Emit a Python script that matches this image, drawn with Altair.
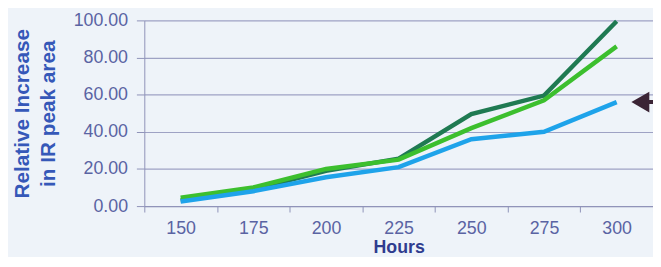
import altair as alt
import pandas as pd

hours = [150, 175, 200, 225, 250, 275, 300]
dark_green = [3.0, 9.0, 19.0, 25.5, 49.5, 59.5, 99.5]
green = [4.5, 10.0, 20.0, 25.0, 42.0, 57.0, 86.0]
blue = [2.5, 8.0, 15.5, 21.0, 36.0, 40.0, 56.0]
y_ticks = [0, 20, 40, 60, 80, 100]

series_names = ["Dark green", "Green", "Blue"]
series_colors = ["#1f7a52", "#3cbf2e", "#1ea3ea"]

rows = []
for name, vals in zip(series_names, [dark_green, green, blue]):
    for h, v in zip(hours, vals):
        rows.append({"hours": h, "value": v, "series": name})
df = pd.DataFrame(rows)

arrow_df = pd.DataFrame({"hours": [hours[-1]], "value": [blue[-1]]})

x_enc = alt.X(
    "hours:O",
    scale=alt.Scale(type="band", paddingInner=0, paddingOuter=0),
    bandPosition=0.5,
    axis=alt.Axis(
        title="Hours", tickBand="extent", labelAngle=0, grid=False,
        labelFont="Liberation Sans", labelFontSize=18, labelColor="#5a63a3",
        titleFont="Liberation Sans", titleFontSize=18, titleColor="#2f3c8f",
        titleFontWeight="bold", titlePadding=1,
        domainColor="#8e92b8", tickColor="#8e92b8", tickSize=6, labelPadding=8,
    ),
)
y_enc = alt.Y(
    "value:Q",
    scale=alt.Scale(domain=[0, 100]),
    axis=alt.Axis(
        title=["Relative  Increase", "in IR peak area"],
        values=y_ticks, format=".2f", labelOverlap=False, tickCount=6,
        labelFont="Liberation Sans", labelFontSize=18, labelColor="#5a63a3",
        titleFont="Liberation Sans", titleFontSize=21, titleColor="#3558b8",
        titleFontWeight="bold", titlePadding=15, titleLineHeight=26,
        gridColor="#9ea2c4", gridWidth=1.2, domainColor="#8e92b8",
        tickColor="#8e92b8", tickSize=8, labelPadding=9,
    ),
)

lines = alt.Chart(df).mark_line(strokeWidth=4.5, strokeCap="butt").encode(
    x=x_enc,
    y=y_enc,
    color=alt.Color("series:N", scale=alt.Scale(domain=series_names, range=series_colors), legend=None),
    order=alt.Order("series:N"),
)

head = alt.Chart(arrow_df).mark_point(
    shape="triangle-left", filled=True, color="#3b2435", opacity=1, size=440, xOffset=24,
).encode(x=x_enc, y=y_enc)

shaft = alt.Chart(arrow_df).mark_rule(color="#3b2435", strokeWidth=4, xOffset=30).encode(
    x=x_enc, x2=alt.value(700), y=y_enc,
)

chart = alt.layer(lines, head, shaft).properties(
    width=515, height=188,
    autosize=alt.AutoSizeParams(type="none"),
    padding={"left": 138, "top": 11, "right": 0, "bottom": 50},
    background="#eef3f9",
).configure_view(stroke=None)

chart.save("out.html", embed_options={"renderer": "svg", "actions": False})
